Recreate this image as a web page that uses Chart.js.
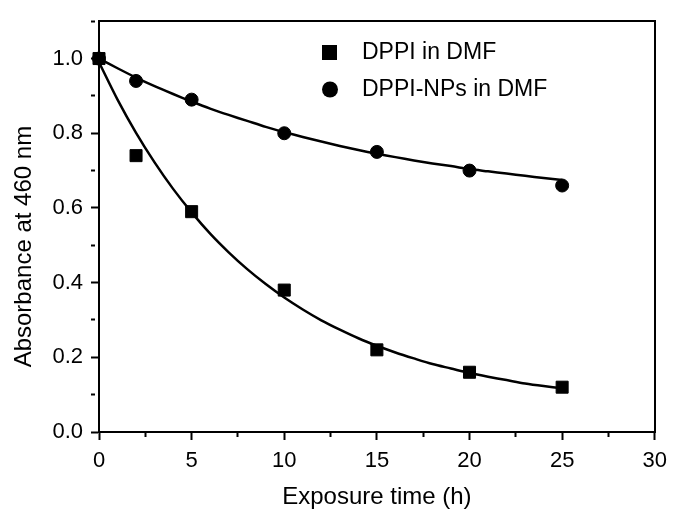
<!DOCTYPE html>
<html>
<head>
<meta charset="utf-8">
<script src="https://cdn.jsdelivr.net/npm/chart.js@4.4.1/dist/chart.umd.min.js"></script>
<style>
  html, body { margin: 0; padding: 0; background: #fff; }
</style>
</head>
<body>
<canvas id="chart" width="675" height="509"></canvas>
<script>
const hours = [0, 2, 5, 10, 15, 20, 25];
const dppiDmf = [1.00, 0.74, 0.59, 0.38, 0.22, 0.16, 0.12];
const dppiNpsDmf = [1.00, 0.94, 0.89, 0.80, 0.75, 0.70, 0.66];

// fitted curves, every hour
const fitHours = [0, 1, 2, 3, 4, 5, 6, 7, 8, 9, 10, 11, 12, 13, 14, 15, 16, 17, 18, 19, 20, 21, 22, 23, 24, 25];
const dppiDmfFit = [0.990, 0.890, 0.801, 0.722, 0.651, 0.588, 0.531, 0.481, 0.436, 0.396, 0.360, 0.328, 0.299,
  0.274, 0.251, 0.231, 0.213, 0.197, 0.182, 0.170, 0.158, 0.148, 0.139, 0.130, 0.123, 0.117];
const dppiNpsDmfFit = [1.000, 0.974, 0.949, 0.926, 0.905, 0.885, 0.866, 0.849, 0.833, 0.817, 0.803, 0.790, 0.778,
  0.766, 0.755, 0.745, 0.736, 0.727, 0.719, 0.712, 0.704, 0.698, 0.692, 0.686, 0.680, 0.675];

const seriesLabels = ['DPPI in DMF', 'DPPI-NPs in DMF'];
const xTitle = 'Exposure time (h)';
const yTitle = 'Absorbance at 460 nm';

const FONT = '"Liberation Sans", Arial, Helvetica, sans-serif';
Chart.defaults.font.family = FONT;
Chart.defaults.color = '#000';

const pts = (xs, ys) => xs.map((x, i) => ({ x, y: ys[i] }));

// legend drawn inside the plot, like the original
const insideLegend = {
  id: 'insideLegend',
  afterDraw(chart) {
    const { ctx } = chart;
    ctx.save();
    ctx.fillStyle = '#000';
    ctx.fillRect(322, 45, 15, 15);
    ctx.beginPath();
    ctx.arc(330, 89.5, 8, 0, Math.PI * 2);
    ctx.fill();
    ctx.font = '23px ' + FONT;
    ctx.textBaseline = 'middle';
    ctx.fillText(seriesLabels[0], 362, 53);
    ctx.fillText(seriesLabels[1], 362, 89.5);
    ctx.restore();
  }
};

const minorDash = step => ctx => (ctx.tick && Math.abs(ctx.tick.value / step - Math.round(ctx.tick.value / step)) > 1e-6) ? [4, 40] : [];

new Chart(document.getElementById('chart'), {
  type: 'scatter',
  data: {
    datasets: [
      {
        label: seriesLabels[0] + ' fit',
        data: pts(fitHours, dppiDmfFit),
        showLine: true,
        borderColor: '#000',
        borderWidth: 2.5,
        pointRadius: 0,
        tension: 0.3
      },
      {
        label: seriesLabels[1] + ' fit',
        data: pts(fitHours, dppiNpsDmfFit),
        showLine: true,
        borderColor: '#000',
        borderWidth: 2.5,
        pointRadius: 0,
        tension: 0.3
      },
      {
        label: seriesLabels[0],
        data: pts(hours, dppiDmf),
        pointStyle: 'rect',
        pointRadius: 8.5,
        backgroundColor: '#000',
        borderColor: '#000',
        borderWidth: 1,
        clip: false
      },
      {
        label: seriesLabels[1],
        data: pts(hours, dppiNpsDmf),
        pointStyle: 'circle',
        pointRadius: 6.5,
        backgroundColor: '#000',
        borderColor: '#000',
        borderWidth: 1,
        clip: false
      }
    ]
  },
  options: {
    responsive: false,
    animation: false,
    events: [],
    layout: { padding: 0 },
    plugins: {
      legend: { display: false },
      tooltip: { enabled: false }
    },
    scales: {
      x: {
        type: 'linear',
        position: 'bottom',
        min: 0,
        max: 30,
        ticks: {
          stepSize: 2.5,
          autoSkip: false,
          maxRotation: 0,
          padding: 8,
          font: { size: 22 },
          callback: v => (v % 5 === 0 ? v : '')
        },
        grid: {
          drawOnChartArea: false,
          tickLength: 8,
          tickWidth: 2,
          tickColor: '#000',
          tickBorderDash: minorDash(5)
        },
        border: { color: '#000', width: 2 },
        title: {
          display: true,
          text: xTitle,
          font: { size: 24, lineHeight: 1 },
          padding: { top: 0, bottom: 0 }
        },
        afterFit(s) { s.height = 77; }
      },
      y: {
        type: 'linear',
        position: 'left',
        min: 0,
        max: 1.1,
        ticks: {
          stepSize: 0.1,
          autoSkip: false,
          padding: 8,
          font: { size: 22 },
          callback: v => (Math.round(v * 10) % 2 === 0 ? v.toFixed(1) : '')
        },
        grid: {
          drawOnChartArea: false,
          tickLength: 8,
          tickWidth: 2,
          tickColor: '#000',
          tickBorderDash: minorDash(0.2)
        },
        border: { color: '#000', width: 2 },
        title: {
          display: true,
          text: yTitle + '      ',
          font: { size: 24, lineHeight: 1 },
          padding: { top: 12, bottom: 0 }
        },
        afterFit(s) { s.width = 99; }
      },
      xTop: {
        type: 'linear',
        position: 'top',
        min: 0,
        max: 30,
        ticks: { display: false },
        grid: { drawOnChartArea: false, drawTicks: false },
        border: { color: '#000', width: 2 },
        afterFit(s) { s.height = 13; }
      },
      yRight: {
        type: 'linear',
        position: 'right',
        min: 0,
        max: 1.1,
        ticks: { display: false },
        grid: { drawOnChartArea: false, drawTicks: false },
        border: { color: '#000', width: 2 },
        afterFit(s) { s.width = 15; }
      }
    }
  },
  plugins: [insideLegend]
});
</script>
</body>
</html>
